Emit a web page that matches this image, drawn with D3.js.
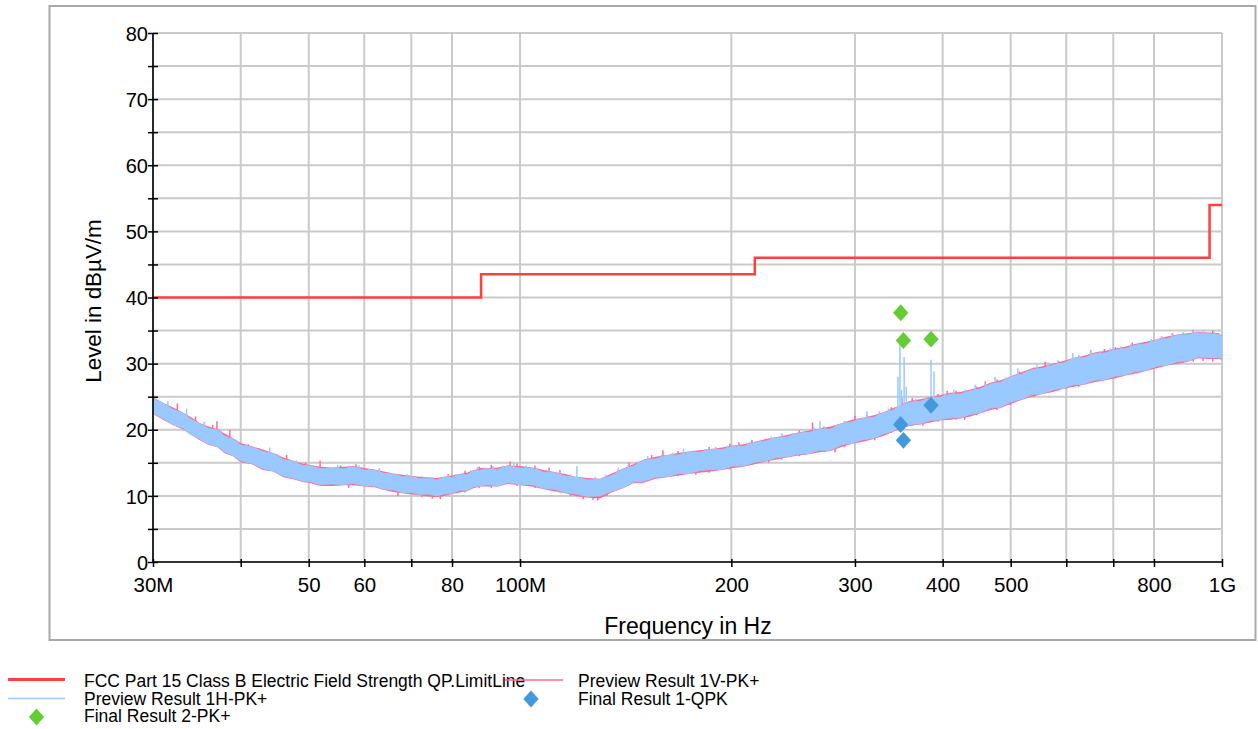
<!DOCTYPE html>
<html>
<head>
<meta charset="utf-8">
<script src="https://cdn.jsdelivr.net/npm/d3@7"></script>
<style>
  body { margin: 0; background: #fff; }
  text { font-family: "Liberation Sans", Arial, sans-serif; fill: #000; }
</style>
</head>
<body>
<svg id="myGraph" width="1258" height="729"></svg>
<script>
// sweep frequencies in MHz (shared by both preview traces)
var sweepMHz = [30, 31, 32, 33, 34, 35, 36, 37, 38, 39, 40, 41.5, 43, 44.5, 46, 47.5, 49, 50, 52, 54,
  56, 58, 60, 62, 64, 66, 68, 70, 72, 74, 76, 78, 80, 82, 84, 86, 88, 90, 93, 96,
  100, 104, 108, 112, 116, 120, 125, 130, 135, 140, 145, 150, 156, 162, 168, 174, 180, 187, 194, 201,
  208, 216, 224, 232, 240, 249, 258, 267, 277, 287, 297, 308, 319, 330, 340, 346, 352, 360, 372, 384,
  396, 410, 424, 438, 453, 468, 484, 500, 518, 536, 555, 574, 594, 615, 636, 658, 681, 705, 729, 754,
  780, 807, 835, 864, 894, 925, 957, 990, 1000];

// Preview Result 1H-PK+ : upper / lower edge of the trace (dBuV/m)
var hHigh = [24.7, 24.0, 23.1, 22.6, 21.6, 20.9, 20.2, 20.0, 19.0, 18.6, 17.7, 17.4, 16.7, 16.4, 15.5, 15.2, 14.6, 14.6, 14.1, 14.2,
  14.1, 14.4, 13.9, 13.9, 13.4, 13.3, 12.9, 12.9, 12.6, 12.7, 12.4, 12.8, 12.8, 13.2, 13.2, 13.8, 13.9, 14.1, 14.0, 14.5,
  14.2, 14.2, 13.6, 13.5, 13.0, 12.8, 12.4, 12.5, 13.1, 14.0, 14.5, 15.4, 15.6, 16.1, 16.2, 16.6, 16.6, 17.0, 17.0, 17.5,
  17.5, 18.1, 18.3, 18.8, 18.9, 19.5, 19.6, 20.1, 20.1, 20.9, 21.2, 21.7, 21.9, 22.6, 23.0, 23.5, 23.7, 24.2, 24.3, 24.8,
  24.9, 25.4, 25.4, 25.9, 26.2, 26.9, 27.2, 28.0, 28.4, 29.1, 29.3, 29.8, 30.1, 30.8, 30.9, 31.5, 31.6, 32.1, 32.3, 32.8,
  33.0, 33.6, 33.8, 34.3, 34.4, 34.6, 34.5, 34.4, 34.0];
var hLow = [22.5, 21.7, 20.8, 20.3, 19.3, 18.6, 17.8, 17.5, 16.6, 16.1, 15.3, 14.9, 14.1, 13.8, 13.0, 12.7, 12.2, 12.2, 11.7, 11.8,
  11.7, 11.9, 11.5, 11.5, 11.0, 10.9, 10.5, 10.5, 10.2, 10.3, 10.0, 10.3, 10.4, 10.8, 10.8, 11.4, 11.5, 11.7, 11.5, 12.0,
  11.7, 11.7, 11.1, 11.0, 10.5, 10.3, 9.9, 10.0, 10.7, 11.2, 12.1, 12.2, 12.8, 12.9, 13.4, 13.4, 13.8, 14.0, 14.0, 14.5,
  14.5, 15.1, 15.3, 15.8, 15.9, 16.3, 16.4, 16.9, 16.9, 17.7, 18.0, 18.5, 18.7, 19.4, 19.8, 20.3, 20.4, 20.8, 20.9, 21.4,
  21.5, 21.8, 21.8, 22.3, 22.6, 23.3, 23.4, 24.2, 24.6, 25.3, 25.5, 26.0, 26.3, 26.8, 26.9, 27.5, 27.6, 28.1, 28.3, 28.8,
  29.0, 29.6, 29.8, 30.3, 30.4, 31.0, 30.9, 30.9, 30.8];

// Preview Result 1V-PK+ : upper / lower edge of the trace (dBuV/m)
var vHigh = [24.9, 24.1, 23.4, 22.7, 21.9, 21.0, 20.5, 20.1, 19.4, 18.7, 18.0, 17.5, 17.0, 16.5, 15.8, 15.3, 14.9, 14.7, 14.4, 14.3,
  14.4, 14.5, 14.2, 14.0, 13.7, 13.4, 13.2, 13.0, 12.9, 12.8, 12.7, 12.9, 13.1, 13.3, 13.5, 13.9, 14.2, 14.2, 14.3, 14.6,
  14.5, 14.3, 13.9, 13.6, 13.3, 12.9, 12.7, 12.6, 13.4, 14.1, 14.8, 15.5, 15.9, 16.2, 16.5, 16.7, 16.9, 17.1, 17.3, 17.6,
  17.8, 18.2, 18.6, 18.9, 19.2, 19.6, 19.9, 20.2, 20.5, 21.0, 21.5, 21.8, 22.2, 22.7, 23.3, 23.6, 24.0, 24.4, 24.6, 25.0,
  25.2, 25.6, 25.7, 26.1, 26.5, 27.1, 27.5, 28.1, 28.7, 29.3, 29.6, 30.0, 30.4, 30.9, 31.2, 31.7, 31.9, 32.3, 32.6, 33.0,
  33.3, 33.7, 34.1, 34.4, 34.6, 34.8, 34.7, 34.6, 34.3];
var vLow = [22.4, 21.5, 20.7, 20.1, 19.2, 18.4, 17.7, 17.4, 16.4, 16.0, 15.1, 14.8, 13.9, 13.7, 12.8, 12.5, 12.1, 12.0, 11.5, 11.5,
  11.6, 11.6, 11.4, 11.3, 10.9, 10.6, 10.4, 10.2, 10.1, 9.9, 9.8, 10.0, 10.3, 10.5, 10.7, 11.2, 11.4, 11.4, 11.4, 11.8,
  11.6, 11.4, 11.0, 10.7, 10.4, 10.0, 9.7, 9.6, 10.5, 11.1, 11.9, 12.0, 12.6, 12.8, 13.1, 13.3, 13.5, 13.7, 13.9, 14.2,
  14.4, 14.8, 15.2, 15.5, 15.8, 16.1, 16.3, 16.6, 16.8, 17.4, 17.9, 18.2, 18.6, 19.1, 19.7, 20.0, 20.3, 20.6, 20.8, 21.1,
  21.4, 21.5, 21.7, 22.0, 22.5, 23.0, 23.3, 23.9, 24.5, 25.0, 25.4, 25.7, 26.2, 26.5, 26.8, 27.2, 27.5, 27.8, 28.2, 28.5,
  28.9, 29.3, 29.7, 30.0, 30.3, 30.8, 30.7, 30.7, 30.6];

// single narrow peaks on each trace: [MHz, from dB, to dB]
var hSpikes = [[31.5, 22.0, 24.3], [33.5, 20.5, 23.2], [35.5, 19.0, 21.2], [37.5, 17.5, 20.0], [39.5, 16.3, 18.4],
  [40.8, 15.5, 17.8], [42, 15.0, 17.4], [44.0, 14.2, 17.3], [45.3, 13.9, 16.1], [47, 13.2, 15.5], [48, 13.0, 15.4],
  [51, 12.3, 14.4], [53, 12.0, 14.3], [55, 12.3, 14.7], [57, 12.1, 14.6], [59, 12.2, 14.6], [61, 11.8, 14.1],
  [63, 11.7, 14.2], [65, 11.2, 13.5], [67, 10.8, 13.2], [69, 11.0, 13.3], [71, 10.6, 13.0], [73, 10.5, 12.9],
  [75, 10.3, 12.8], [77, 10.2, 12.6], [79, 10.2, 13.1], [81, 10.8, 13.3], [83, 11.0, 13.5], [85, 11.5, 13.9],
  [87, 11.9, 14.4], [89, 11.9, 14.3], [91.5, 12.0, 14.5], [94.5, 12.0, 14.6], [98, 12.2, 15.0], [102, 12.0, 14.6],
  [106, 11.8, 14.2], [110, 11.3, 13.8], [114, 11.0, 13.6], [118, 10.7, 13.2], [120.5, 11.0, 14.5], [122.5, 10.3, 12.9],
  [128, 10.0, 12.9], [132.5, 10.6, 13.2], [138, 11.5, 14.3], [142.5, 12.0, 14.7], [147.5, 12.6, 15.2], [152, 12.8, 16.0],
  [159, 13.3, 16.2], [165, 13.6, 16.5], [171, 14.2, 17.1], [177, 14.1, 16.9], [183.5, 14.3, 17.1], [190, 14.5, 17.4],
  [197.5, 14.7, 17.6], [204.5, 15.0, 17.8], [212, 15.3, 18.1], [220, 15.6, 18.5], [228, 16.0, 19.0], [236, 16.4, 19.4],
  [244.5, 16.6, 19.5], [253.5, 16.9, 19.8], [262, 17.2, 20.4], [267.5, 17.5, 21.3], [272, 17.4, 20.4], [282, 17.8, 20.7],
  [290, 18.2, 21.3], [302, 18.7, 21.7], [312, 19.2, 22.8], [325, 19.6, 22.8], [335, 20.1, 23.2], [345.4, 21, 28],
  [347.7, 21, 32.9], [349.5, 21, 26], [352.5, 21.5, 31], [355, 21.5, 26.5], [366, 21.4, 24.7], [378, 21.6, 24.8],
  [385, 22.5, 30.6], [388.8, 22.5, 28.8], [403, 22.1, 25.5], [415, 22.8, 26.1], [431, 22.6, 26.1], [445, 23.3, 26.8],
  [460, 23.4, 27.0], [475, 24.2, 28.0], [492, 24.2, 27.9], [512, 25.5, 29.3], [527, 25.3, 29.0], [545, 26.2, 29.9],
  [565, 26.2, 30.2], [584, 26.6, 30.5], [613, 27.8, 31.6], [625, 27.4, 31.3], [650, 28.3, 32.0], [669, 28.0, 31.9],
  [693, 28.3, 32.3], [700, 29, 32.5], [717, 28.7, 32.6], [742, 29.1, 33.0], [760, 29.6, 33.2], [793, 29.7, 33.7],
  [820, 30.4, 34.1], [849, 30.5, 34.4], [880, 31, 34.8], [909, 31.0, 35.0], [924, 31.5, 34.9], [941, 31.2, 35.1],
  [975, 31.5, 34.8], [995, 31.0, 34.5]];
var vSpikes = [[32.5, 21.0, 24.0], [34.5, 19.3, 22.0], [35.5, 18.8, 21.1], [36.5, 18.0, 20.7], [37.0, 18, 21.3],
  [38.6, 17.3, 20.0], [41, 15.5, 17.8], [42.5, 14.3, 17.2], [45, 13.7, 16.3], [46.5, 13.8, 16.2], [49.5, 12.2, 15.0],
  [51.9, 12.5, 15.3], [53.5, 11.6, 14.0], [55.5, 11.6, 14.6], [57, 11.2, 13.0], [58.4, 12.2, 14.8], [61.5, 11.3, 14.0],
  [63.5, 11.0, 13.7], [67, 10.0, 11.6], [69.5, 10.3, 13.1], [72.5, 9.8, 12.9], [75, 9.6, 11.5], [77, 9.5, 11.2],
  [79, 10.1, 13.3], [83.5, 10.5, 13.8], [87.5, 11.2, 14.4], [91, 11.2, 14.7], [96.8, 12.5, 15.2], [99, 11.5, 14.9],
  [105, 11.2, 14.6], [110, 11.0, 14.3], [114, 10.5, 13.9], [118, 10.0, 13.2], [123, 9.5, 11.0], [127, 9.4, 11.8],
  [129, 9.3, 11.0], [133, 10.0, 12.9], [143, 11.7, 15.0], [154, 12.5, 16.2], [159.8, 13.8, 16.9], [168, 13.0, 16.8],
  [178, 13.2, 14.8], [186, 13.5, 17.4], [199, 14.0, 17.9], [205, 15.0, 18.1], [214, 14.7, 18.5], [226, 15.0, 16.5],
  [236, 15.5, 19.4], [250, 16.0, 19.9], [261, 17.5, 21.1], [271, 16.6, 20.5], [281, 16.6, 18.3], [290, 17.4, 21.3],
  [300, 19.0, 22.1], [312, 18.4, 22.3], [320, 18.4, 20.0], [338, 19.5, 23.4], [350, 21, 24.8], [362, 20.6, 24.8],
  [375, 20.6, 22.5], [394, 21.2, 25.4], [406, 22.5, 25.9], [418, 21.5, 25.9], [430, 21.5, 23.0], [447, 22.2, 26.5],
  [460, 23.5, 27.3], [478, 23.0, 27.6], [500, 23.8, 25.5], [515, 24.5, 28.8], [540, 25.0, 29.4], [560, 26.5, 30.3],
  [585, 25.9, 30.4], [600, 26.2, 27.8], [625, 26.5, 31.1], [650, 28.5, 32.1], [680, 27.5, 32.2], [705, 27.8, 32.5],
  [720, 28.1, 29.5], [745, 28.4, 33.2], [785, 30.0, 33.3], [820, 29.5, 34.1], [850, 31, 34.6], [880, 30.1, 34.6],
  [910, 30.3, 35.1], [940, 30.4, 31.8], [970, 30.3, 35.0]];

// limit line steps: [MHz, dB] (step after)
var limitFreq = [30, 88, 216, 960, 1000];
var limitLevel = [40, 43.5, 46, 54, 54];

// final measurements
var pkFreq = [348.6, 351.7, 385.0];
var pkLevel = [37.7, 33.5, 33.7];
var qpkFreq = [348.5, 351.7, 385.0];
var qpkLevel = [20.8, 18.4, 23.7];

// axis ticks
var xTicks = [30, 40, 50, 60, 70, 80, 100, 200, 300, 400, 500, 600, 700, 800, 1000];
var xTickLabels = ["30M", "", "50", "60", "", "80", "100M", "200", "300", "400", "500", "", "", "800", "1G"];
var yTicks = [0, 10, 20, 30, 40, 50, 60, 70, 80];
var yMinorTicks = [5, 15, 25, 35, 45, 55, 65, 75];

var pink = "#ff6a90", blue = "#99c9ff";
var svg = d3.select("#myGraph");

// outer frame
svg.append("rect")
  .attr("x", 49.5).attr("y", 6).attr("width", 1206).attr("height", 634)
  .attr("fill", "#fff").attr("stroke", "#a8a8a8").attr("stroke-width", 2);

var x = d3.scaleLog().domain([30, 1000]).range([153, 1222]);
var y = d3.scaleLinear().domain([0, 80]).range([562, 33]);

// grid
var grid = svg.append("g").attr("stroke", "#cacaca").attr("stroke-width", 2);
grid.selectAll(".vg").data(xTicks).enter().append("line")
  .attr("x1", function(d){ return x(d); }).attr("x2", function(d){ return x(d); })
  .attr("y1", y(80)).attr("y2", y(0));
grid.selectAll(".hg").data(yTicks.concat(yMinorTicks)).enter().append("line")
  .attr("x1", x(30)).attr("x2", x(1000))
  .attr("y1", function(d){ return y(d); }).attr("y2", function(d){ return y(d); });

// traces drawn as min/max band plus narrow peaks
function band(hi, lo) {
  return d3.area()
    .x(function(d, i){ return x(sweepMHz[i]); })
    .y0(function(d, i){ return y(lo[i]); })
    .y1(function(d, i){ return y(hi[i]); })(sweepMHz);
}
function spikes(list, color) {
  svg.append("g").selectAll("line").data(list).enter().append("line")
    .attr("x1", function(d){ return x(d[0]); }).attr("x2", function(d){ return x(d[0]); })
    .attr("y1", function(d){ return y(d[1]); }).attr("y2", function(d){ return y(d[2]); })
    .attr("stroke", color).attr("stroke-width", 1.5);
}
svg.append("path").attr("d", band(vHigh, vLow)).attr("fill", pink);
spikes(vSpikes, pink);
svg.append("path").attr("d", band(hHigh, hLow))
  .attr("fill", blue).attr("stroke", blue).attr("stroke-width", 0.8);
spikes(hSpikes, blue);

// limit line
var limitPts = limitFreq.map(function(f, i){ return [f, limitLevel[i]]; });
svg.append("path")
  .attr("d", d3.line().curve(d3.curveStepAfter)
    .x(function(d){ return x(d[0]); }).y(function(d){ return y(d[1]); })(limitPts))
  .attr("fill", "none").attr("stroke", "#ff4040").attr("stroke-width", 2.5);

// axes
var xAxis = d3.axisBottom(x).tickValues(xTicks).tickSize(5)
  .tickFormat(function(d, i){ return xTickLabels[i]; });
var gx = svg.append("g").attr("transform", "translate(0," + y(0) + ")").call(xAxis);
var gy = svg.append("g").attr("transform", "translate(" + x(30) + ",0)")
  .call(d3.axisLeft(y).tickValues(yTicks).tickSize(5).tickFormat(d3.format("d")));
var gyMinor = svg.append("g").attr("transform", "translate(" + x(30) + ",0)")
  .call(d3.axisLeft(y).tickValues(yMinorTicks).tickSize(5).tickFormat(""));

svg.selectAll(".domain").attr("stroke", "#000").attr("stroke-width", 1.6);
gx.select(".domain").attr("d", "M" + x(30) + ",0H" + x(1000));
gy.select(".domain").attr("d", "M0," + y(0) + "V" + y(80));
gyMinor.select(".domain").remove();
svg.selectAll(".tick line").attr("stroke", "#000").attr("stroke-width", 1.5);
gx.selectAll(".tick line").attr("y1", -3).attr("y2", 5);
gy.selectAll(".tick line").attr("x1", 5).attr("x2", -5);
gyMinor.selectAll(".tick line").attr("x1", 5).attr("x2", -5);
gx.selectAll(".tick text").attr("font-size", 20.5).attr("y", 12).attr("dy", "0.9em");
gy.selectAll(".tick text").attr("font-size", 20).attr("x", -5).attr("dy", "0.36em");

// axis titles
svg.append("text").attr("x", 688).attr("y", 634).attr("text-anchor", "middle")
  .attr("font-size", 23).text("Frequency in Hz");
svg.append("text").attr("transform", "translate(101,301) rotate(-90)").attr("text-anchor", "middle")
  .attr("font-size", 22.4).text("Level in dBµV/m");

// final result markers
var diamond = d3.symbol().type(d3.symbolDiamond2).size(150);
svg.selectAll(".pk").data(pkFreq).enter().append("path")
  .attr("d", diamond)
  .attr("transform", function(d, i){ return "translate(" + x(d) + "," + y(pkLevel[i]) + ") scale(1,1.1)"; })
  .attr("fill", "#66cc33");
svg.selectAll(".qpk").data(qpkFreq).enter().append("path")
  .attr("d", diamond)
  .attr("transform", function(d, i){ return "translate(" + x(d) + "," + y(qpkLevel[i]) + ") scale(1,1.1)"; })
  .attr("fill", "#4499dd");

// legend
var legend = svg.append("g").attr("font-size", 17.5);
legend.append("line").attr("x1", 8).attr("x2", 65).attr("y1", 679.5).attr("y2", 679.5)
  .attr("stroke", "#ff4040").attr("stroke-width", 3);
legend.append("text").attr("x", 84).attr("y", 687).text("FCC Part 15 Class B Electric Field Strength QP.LimitLine");
legend.append("line").attr("x1", 8).attr("x2", 65).attr("y1", 698.5).attr("y2", 698.5)
  .attr("stroke", blue).attr("stroke-width", 1.5);
legend.append("text").attr("x", 84).attr("y", 704.5).text("Preview Result 1H-PK+");
legend.append("path").attr("d", diamond).attr("transform", "translate(36.5,717) scale(1,1.1)").attr("fill", "#66cc33");
legend.append("text").attr("x", 84).attr("y", 722).text("Final Result 2-PK+");
legend.append("line").attr("x1", 505).attr("x2", 563).attr("y1", 680).attr("y2", 680)
  .attr("stroke", pink).attr("stroke-width", 1.5);
legend.append("text").attr("x", 578).attr("y", 687).text("Preview Result 1V-PK+");
legend.append("path").attr("d", diamond).attr("transform", "translate(531,699) scale(1,1.1)").attr("fill", "#4499dd");
legend.append("text").attr("x", 578).attr("y", 705).text("Final Result 1-QPK");
</script>
</body>
</html>
